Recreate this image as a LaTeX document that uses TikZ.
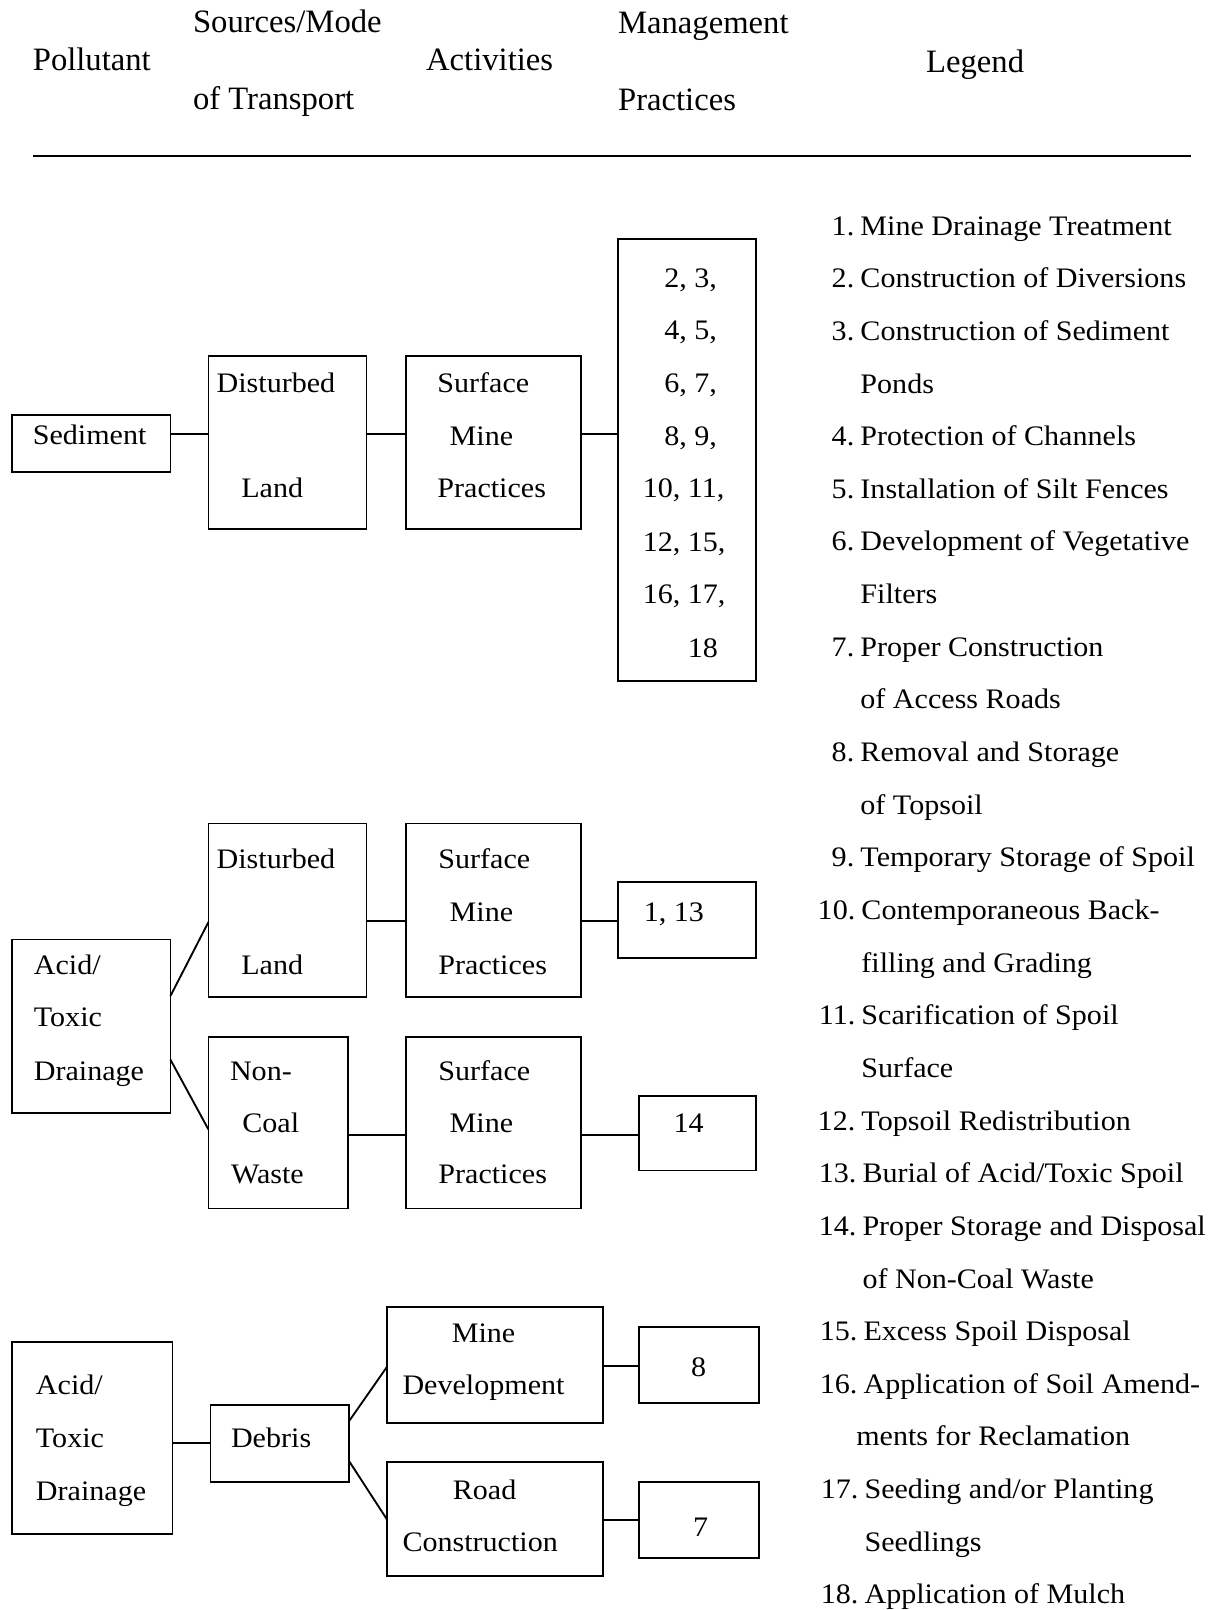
\documentclass[tikz,border=0pt]{standalone}
\usepackage{fontspec}
\setmainfont{Liberation Serif}[FakeStretch=1.065]
\newfontfamily\hdfont{Liberation Serif}
\begin{document}
\begin{tikzpicture}[x=1pt,y=-1pt,
  box/.style={draw, line width=1.8pt, inner sep=0pt, outer sep=0pt},
  conn/.style={line width=1.8pt},
  lbl/.style={anchor=base west, inner sep=0pt, outer sep=0pt, yshift=-2pt, font=\fontsize{27.5}{33}\selectfont},
  lnum/.style={anchor=base east, inner sep=0pt, outer sep=0pt, yshift=-2pt, font=\fontsize{27.5}{33}\selectfont},
  hd/.style={anchor=base west, inner sep=0pt, outer sep=0pt, yshift=-1pt, font=\hdfont\fontsize{31.8}{36}\selectfont}]
\useasboundingbox (0,0) rectangle (1184,1568);
% header
\node[hd] (h1) at (32,68) {Pollutant};
\node[hd] (h2) at (188,31) {Sources/Mode};
\node[hd] (h3) at (188,106) {of Transport};
\node[hd] (h4) at (415,68) {Activities};
\node[hd] (h5) at (602,32) {Management};
\node[hd] (h6) at (602,107) {Practices};
\node[hd] (h7) at (902,70) {Legend};
\coordinate (r1) at (32,152);
\coordinate (r2) at (1160,152);
\draw[line width=1.6pt] (r1) -- (r2);
% section 1
\node[box, minimum width=154pt, minimum height=56pt] (sed) at (89,432) {};
\node[box, minimum width=154pt, minimum height=168pt] (dl1) at (280,431) {};
\node[box, minimum width=171pt, minimum height=168pt] (sm1) at (480.5,431) {};
\node[box, minimum width=134pt, minimum height=430pt] (mp1) at (669,448) {};
\node[lbl] (t1) at (32,431) {Sediment};
\node[lbl] (t2) at (211,380) {Disturbed};
\node[lbl] (t3) at (235,483) {Land};
\node[lbl] (t4) at (426,380) {Surface};
\node[lbl] (t5) at (438,432) {Mine};
\node[lbl] (t6) at (426,483) {Practices};
\node[lbl] (n1) at (647,278) {2, 3,};
\node[lbl] (n2) at (647,329) {4, 5,};
\node[lbl] (n3) at (647,380) {6, 7,};
\node[lbl] (n4) at (647,432) {8, 9,};
\node[lbl] (n5) at (626,483) {10, 11,};
\node[lbl] (n6) at (626,535) {12, 15,};
\node[lbl] (n7) at (626,586) {16, 17,};
\node[lbl] (n8) at (670,638) {18};
\draw[conn] (sed.east |- 0,423) -- (dl1.west |- 0,423);
\draw[conn] (dl1.east |- 0,423) -- (sm1.west |- 0,423);
\draw[conn] (sm1.east |- 0,423) -- (mp1.west |- 0,423);
% section 2
\node[box, minimum width=154pt, minimum height=169pt] (dl2) at (280,886.5) {};
\node[box, minimum width=171pt, minimum height=169pt] (sm2) at (480.5,886.5) {};
\node[box, minimum width=134pt, minimum height=74pt] (mp2) at (669,896) {};
\node[box, minimum width=154pt, minimum height=169pt] (acid1) at (89,999.5) {};
\node[box, minimum width=136pt, minimum height=167pt] (nc) at (271,1093.5) {};
\node[box, minimum width=171pt, minimum height=167pt] (sm3) at (480.5,1093.5) {};
\node[box, minimum width=114pt, minimum height=73pt] (mp3) at (679,1103.5) {};
\node[lbl] (u1) at (211,844) {Disturbed};
\node[lbl] (u2) at (235,947) {Land};
\node[lbl] (u3) at (427,844) {Surface};
\node[lbl] (u4) at (438,895) {Mine};
\node[lbl] (u5) at (427,947) {Practices};
\node[lbl] (u6) at (627,895) {1, 13};
\node[lbl] (u7) at (33,947) {Acid/};
\node[lbl] (u8) at (33,998) {Toxic};
\node[lbl] (u9) at (33,1050) {Drainage};
\node[lbl] (u10) at (224,1050) {Non-};
\node[lbl] (u11) at (236,1101) {Coal};
\node[lbl] (u12) at (225,1151) {Waste};
\node[lbl] (u13) at (427,1050) {Surface};
\node[lbl] (u14) at (438,1101) {Mine};
\node[lbl] (u15) at (427,1151) {Practices};
\node[lbl] (u16) at (656,1101) {14};
\draw[conn] (acid1.east |- 0,970) -- (dl2.west |- 0,898);
\draw[conn] (acid1.east |- 0,1032) -- (nc.west |- 0,1100);
\draw[conn] (dl2.east |- 0,897) -- (sm2.west |- 0,897);
\draw[conn] (sm2.east |- 0,897) -- (mp2.west |- 0,897);
\draw[conn] (nc.east |- 0,1105) -- (sm3.west |- 0,1105);
\draw[conn] (sm3.east |- 0,1105) -- (mp3.west |- 0,1105);
% section 3
\node[box, minimum width=156pt, minimum height=187pt] (acid2) at (90,1400.5) {};
\node[box, minimum width=135pt, minimum height=75pt] (deb) at (272.5,1405.5) {};
\node[box, minimum width=210pt, minimum height=113pt] (md) at (482,1329.5) {};
\node[box, minimum width=210pt, minimum height=111pt] (rc) at (482,1479.5) {};
\node[box, minimum width=117pt, minimum height=74pt] (m8) at (680.5,1329) {};
\node[box, minimum width=117pt, minimum height=74pt] (m7) at (680.5,1480) {};
\node[lbl] (v1) at (35,1356) {Acid/};
\node[lbl] (v2) at (35,1408) {Toxic};
\node[lbl] (v3) at (35,1459) {Drainage};
\node[lbl] (v4) at (225,1408) {Debris};
\node[lbl] (v5) at (440,1305) {Mine};
\node[lbl] (v6) at (392,1356) {Development};
\node[lbl] (v7) at (441,1458) {Road};
\node[lbl] (v8) at (392,1509) {Construction};
\node[lbl] (v9) at (673,1339) {8};
\node[lbl] (v10) at (675,1494) {7};
\draw[conn] (acid2.east |- 0,1405) -- (deb.west |- 0,1405);
\draw[conn] (deb.east |- 0,1384) -- (md.west |- 0,1331);
\draw[conn] (deb.east |- 0,1423) -- (rc.west |- 0,1480);
\draw[conn] (md.east |- 0,1330) -- (m8.west |- 0,1330);
\draw[conn] (rc.east |- 0,1480) -- (m7.west |- 0,1480);
% legend
\def\lg{51.27}
\node[lnum] (k1) at (832,{227+0*\lg}) {1.};
\node[lbl] (l1) at (838,{227+0*\lg}) {Mine Drainage Treatment};
\node[lnum] (k2) at (832,{227+1*\lg}) {2.};
\node[lbl] (l2) at (838,{227+1*\lg}) {Construction of Diversions};
\node[lnum] (k3) at (832,{227+2*\lg}) {3.};
\node[lbl] (l3) at (838,{227+2*\lg}) {Construction of Sediment};
\node[lbl] (l3b) at (838,{227+3*\lg}) {Ponds};
\node[lnum] (k4) at (832,{227+4*\lg}) {4.};
\node[lbl] (l4) at (838,{227+4*\lg}) {Protection of Channels};
\node[lnum] (k5) at (832,{227+5*\lg}) {5.};
\node[lbl] (l5) at (838,{227+5*\lg}) {Installation of Silt Fences};
\node[lnum] (k6) at (832,{227+6*\lg}) {6.};
\node[lbl] (l6) at (838,{227+6*\lg}) {Development of Vegetative};
\node[lbl] (l6b) at (838,{227+7*\lg}) {Filters};
\node[lnum] (k7) at (832,{227+8*\lg}) {7.};
\node[lbl] (l7) at (838,{227+8*\lg}) {Proper Construction};
\node[lbl] (l7b) at (838,{227+9*\lg}) {of Access Roads};
\node[lnum] (k8) at (832,{227+10*\lg}) {8.};
\node[lbl] (l8) at (838,{227+10*\lg}) {Removal and Storage};
\node[lbl] (l8b) at (838,{227+11*\lg}) {of Topsoil};
\node[lnum] (k9) at (832,{227+12*\lg}) {9.};
\node[lbl] (l9) at (838,{227+12*\lg}) {Temporary Storage of Spoil};
\node[lnum] (k10) at (833,{227+13*\lg}) {10.};
\node[lbl] (l10) at (839,{227+13*\lg}) {Contemporaneous Back-};
\node[lbl] (l10b) at (839,{227+14*\lg}) {filling and Grading};
\node[lnum] (k11) at (833,{227+15*\lg}) {11.};
\node[lbl] (l11) at (839,{227+15*\lg}) {Scarification of Spoil};
\node[lbl] (l11b) at (839,{227+16*\lg}) {Surface};
\node[lnum] (k12) at (833,{227+17*\lg}) {12.};
\node[lbl] (l12) at (839,{227+17*\lg}) {Topsoil Redistribution};
\node[lnum] (k13) at (834,{227+18*\lg}) {13.};
\node[lbl] (l13) at (840,{227+18*\lg}) {Burial of Acid/Toxic Spoil};
\node[lnum] (k14) at (834,{227+19*\lg}) {14.};
\node[lbl] (l14) at (840,{227+19*\lg}) {Proper Storage and Disposal};
\node[lbl] (l14b) at (840,{227+20*\lg}) {of Non-Coal Waste};
\node[lnum] (k15) at (835,{227+21*\lg}) {15.};
\node[lbl] (l15) at (841,{227+21*\lg}) {Excess Spoil Disposal};
\node[lnum] (k16) at (835,{227+22*\lg}) {16.};
\node[lbl] (l16) at (841,{227+22*\lg}) {Application of Soil Amend-};
\node[lbl] (l16b) at (834,{227+23*\lg}) {ments for Reclamation};
\node[lnum] (k17) at (836,{227+24*\lg}) {17.};
\node[lbl] (l17) at (842,{227+24*\lg}) {Seeding and/or Planting};
\node[lbl] (l17b) at (842,{227+25*\lg}) {Seedlings};
\node[lnum] (k18) at (836,{227+26*\lg}) {18.};
\node[lbl] (l18) at (842,{227+26*\lg}) {Application of Mulch};
\end{tikzpicture}
\end{document}
